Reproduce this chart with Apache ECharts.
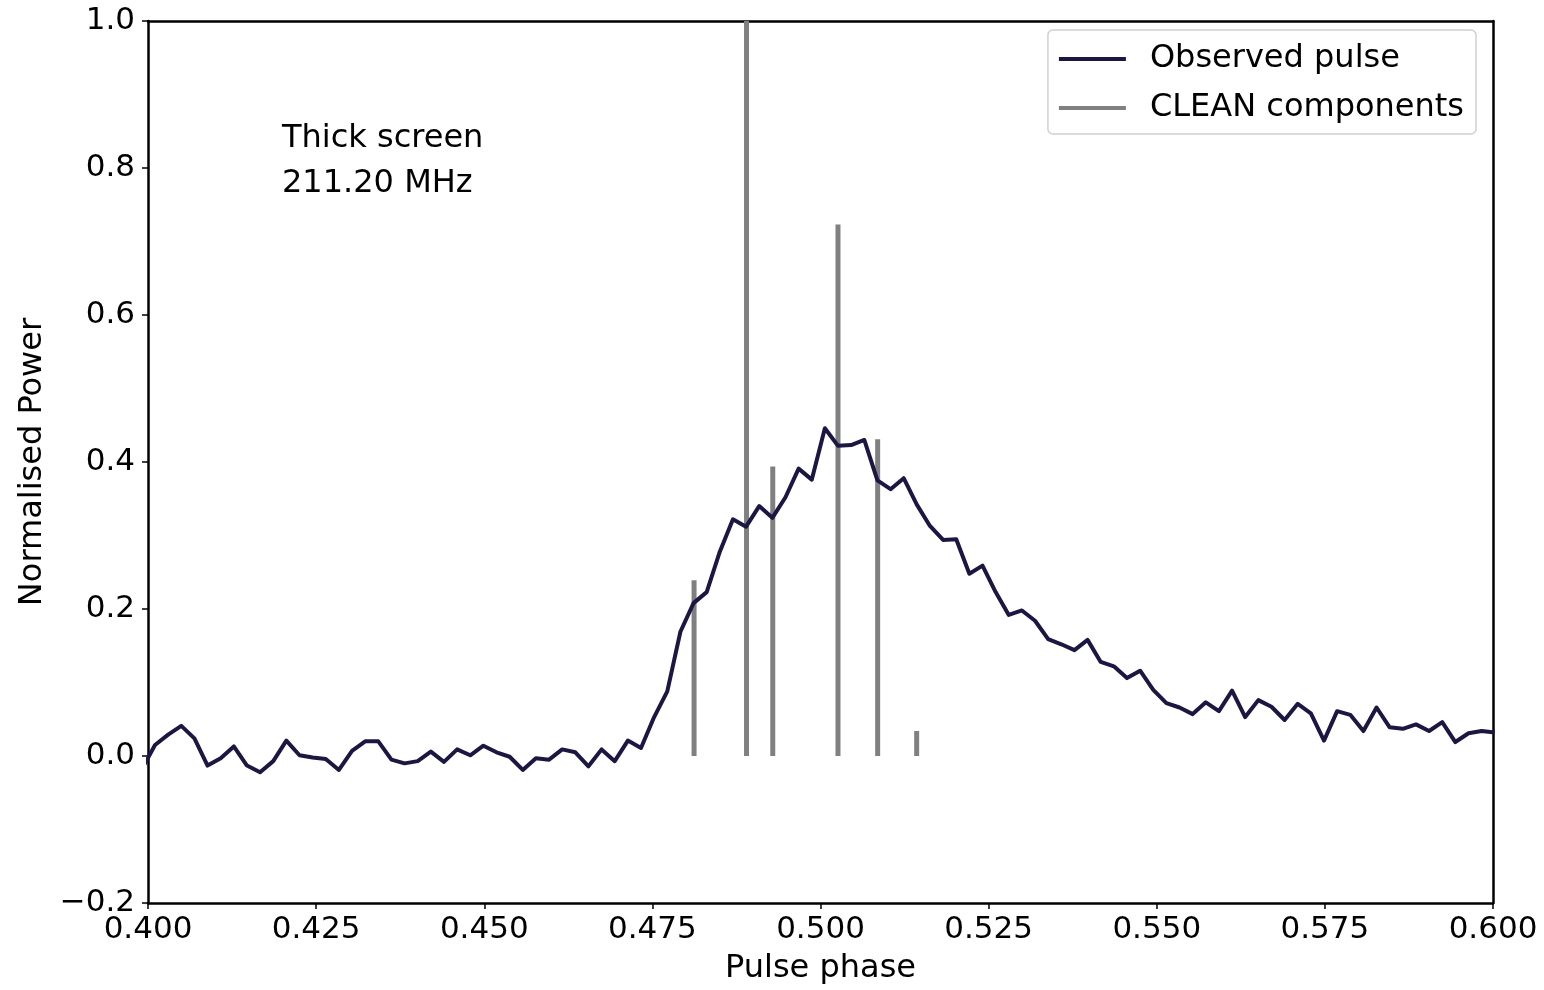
<!DOCTYPE html>
<html>
<head>
<meta charset="utf-8">
<script src="https://cdn.jsdelivr.net/npm/echarts@6/dist/echarts.min.js"></script>
<style>
  html, body { margin: 0; padding: 0; background: #fff; }
  #chart { width: 1544px; height: 990px; }
</style>
</head>
<body>
<div id="chart"></div>
<script>
// sample grid of the observed profile (one bin per 1/512 of phase)
const PHASE_START = 0.39909
const PHASE_STEP = 1 / 512
const pulse = [
    -0.018, 0.015, 0.029, 0.041, 0.024, -0.013, -0.003, 0.013, -0.013, -0.022,
    -0.007, 0.021, 0.001, -0.002, -0.004, -0.019, 0.007, 0.020, 0.020, -0.005,
    -0.010, -0.007, 0.006, -0.008, 0.009, 0.001, 0.014, 0.005, -0.001, -0.019,
    -0.003, -0.005, 0.009, 0.005, -0.014, 0.009, -0.007, 0.021, 0.011, 0.053,
    0.088, 0.169, 0.208, 0.223, 0.278, 0.322, 0.312, 0.340, 0.324, 0.352,
    0.391, 0.376, 0.446, 0.422, 0.423, 0.430, 0.375, 0.363, 0.378, 0.342,
    0.313, 0.294, 0.295, 0.248, 0.259, 0.223, 0.192, 0.198, 0.184, 0.159,
    0.152, 0.144, 0.158, 0.128, 0.122, 0.106, 0.116, 0.090, 0.072, 0.066,
    0.057, 0.073, 0.061, 0.089, 0.053, 0.076, 0.067, 0.049, 0.071, 0.058,
    0.021, 0.061, 0.056, 0.034, 0.066, 0.039, 0.037, 0.043, 0.034, 0.046,
    0.019, 0.031, 0.034, 0.032
]
const cleanPhase = [0.4812, 0.4890, 0.4929, 0.5026, 0.5085, 0.5143]
const cleanAmp = [0.239, 1.0, 0.394, 0.723, 0.431, 0.034]
const xTicks = { min: 0.4, max: 0.6, interval: 0.025 }
const yTicks = { min: -0.2, max: 1.0, interval: 0.2 }

const font = 'DejaVu Sans'
const pulseColor = '#1b1742'
const cleanColor = '#808080'

const pulseData = pulse.map((v, i) => [PHASE_START + i * PHASE_STEP, v])
const cleanData = cleanPhase.map((p, i) => [p, cleanAmp[i]])

const frameLine = { show: true, onZero: false, lineStyle: { color: '#000', width: 2.5 } }
const hidden = { show: false }
const tick = { show: true, inside: false, length: 6, lineStyle: { color: '#000', width: 1.5 } }

const chart = echarts.init(document.getElementById('chart'))
chart.setOption({
    animation: false,
    backgroundColor: '#fff',
    textStyle: { fontFamily: font },
    title: {
        text: 'Thick screen\n211.20 MHz',
        left: 282,
        top: 116,
        padding: 0,
        textStyle: { fontFamily: font, fontSize: 32, fontWeight: 'normal', color: '#000', lineHeight: 45 }
    },
    legend: {
        orient: 'vertical',
        right: 68,
        top: 30,
        padding: [13, 12, 10, 11],
        itemWidth: 67,
        itemHeight: 4,
        itemGap: 17,
        backgroundColor: '#fff',
        borderColor: '#d0d0d0',
        borderWidth: 1.5,
        borderRadius: 5,
        textStyle: { fontFamily: font, fontSize: 32, color: '#000', padding: [0, 0, 0, 19] },
        data: [
            { name: 'Observed pulse', icon: 'rect' },
            { name: 'CLEAN components', icon: 'rect' }
        ]
    },
    grid: { left: 148, right: 51, top: 21, bottom: 80 },
    xAxis: [
        {
            type: 'value',
            min: xTicks.min,
            max: xTicks.max,
            interval: xTicks.interval,
            name: 'Pulse phase',
            nameLocation: 'middle',
            nameGap: 50,
            nameTextStyle: { fontFamily: font, fontSize: 32, color: '#000' },
            axisLine: frameLine,
            axisTick: tick,
            axisLabel: {
                fontFamily: font, fontSize: 31, color: '#000', margin: 11,
                formatter: v => v.toFixed(3)
            },
            splitLine: hidden
        },
        {
            type: 'value',
            position: 'top',
            min: xTicks.min,
            max: xTicks.max,
            axisLine: frameLine,
            axisTick: hidden,
            axisLabel: hidden,
            splitLine: hidden
        }
    ],
    yAxis: [
        {
            type: 'value',
            min: yTicks.min,
            max: yTicks.max,
            interval: yTicks.interval,
            name: 'Normalised Power',
            nameLocation: 'middle',
            nameGap: 99,
            nameTextStyle: { fontFamily: font, fontSize: 32, color: '#000' },
            axisLine: frameLine,
            axisTick: tick,
            axisLabel: {
                fontFamily: font, fontSize: 31, color: '#000', margin: 13,
                formatter: v => v.toFixed(1).replace('-', '\u2212')
            },
            splitLine: hidden
        },
        {
            type: 'value',
            position: 'right',
            min: yTicks.min,
            max: yTicks.max,
            axisLine: frameLine,
            axisTick: hidden,
            axisLabel: hidden,
            splitLine: hidden
        }
    ],
    series: [
        {
            name: 'Observed pulse',
            type: 'line',
            data: pulseData,
            showSymbol: false,
            symbol: 'none',
            clip: true,
            z: 3,
            lineStyle: { color: pulseColor, width: 4, join: 'round' },
            itemStyle: { color: pulseColor }
        },
        {
            name: 'CLEAN components',
            type: 'bar',
            data: cleanData,
            barWidth: 5,
            z: 2,
            itemStyle: { color: cleanColor }
        }
    ]
})
</script>
</body>
</html>
